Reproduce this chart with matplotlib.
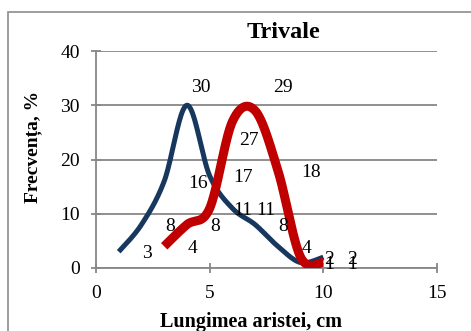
import numpy as np
import matplotlib
matplotlib.use("Agg")
import matplotlib.pyplot as plt
from matplotlib.patches import Rectangle

# frequency of awn length, two samples
blue_x = [1, 2, 3, 4, 5, 6, 7, 8, 9, 10]
blue_y = [3, 8, 16, 30, 17, 11, 8, 4, 1, 2]
red_x = [3, 4, 5, 6, 7, 8, 9, 10]
red_y = [4, 8, 11, 27, 29, 18, 2, 1]

title = "Trivale"
x_label = "Lungimea aristei, cm"
y_label = "Frecvența, %"
x_ticks = [0, 5, 10, 15]
y_ticks = [0, 10, 20, 30, 40]

BLUE = "#17375E"
RED = "#C00000"
GRID = "#878787"


def smooth(xs, ys, n=40):
    # cubic bezier through the points, tangents like a spreadsheet "smoothed line"
    pts = np.column_stack([xs, ys]).astype(float)
    out = []
    for i in range(len(pts) - 1):
        p0 = pts[i - 1] if i > 0 else pts[i]
        p1 = pts[i]
        p2 = pts[i + 1]
        p3 = pts[i + 2] if i + 2 < len(pts) else pts[i + 1]
        c1 = p1 + (p2 - p0) / 6.0
        c2 = p2 - (p3 - p1) / 6.0
        t = np.linspace(0, 1, n)[:, None]
        seg = ((1 - t) ** 3) * p1 + 3 * ((1 - t) ** 2) * t * c1 + 3 * (1 - t) * t ** 2 * c2 + t ** 3 * p2
        out.append(seg if i == 0 else seg[1:])
    seg = np.vstack(out)
    return seg[:, 0], seg[:, 1]


plt.rcParams["font.family"] = ["Liberation Serif", "DejaVu Serif"]

fig = plt.figure(figsize=(4.71, 3.31), dpi=100)
fig.patches.append(Rectangle((8 / 471, -0.1), 1.2, (331 - 12) / 331 + 0.1,
                             transform=fig.transFigure, fill=False,
                             edgecolor="#8c8c8c", linewidth=1.2))

ax = fig.add_axes([96 / 471, (331 - 268) / 331, (437 - 96) / 471, (268 - 51) / 331])

bx, by = smooth(blue_x, blue_y)
rx, ry = smooth(red_x, red_y)
ax.plot(bx, by, color=BLUE, lw=3.6, solid_capstyle="butt", zorder=3)
ax.plot(rx, ry, color=RED, lw=6.5, solid_capstyle="butt", zorder=4)

# value labels: right of the point, the peaks moved by hand
special = {("b", 4): (10, 13), ("r", 6): (12, -14), ("r", 7): (20, 17)}
for key, xs, ys in (("b", blue_x, blue_y), ("r", red_x, red_y)):
    for x, y in zip(xs, ys):
        if (key, x) in special:
            dx, dy = special[(key, x)]
            ax.annotate(str(y), (x, y), xytext=(dx, dy), textcoords="offset points",
                        ha="center", va="center", fontsize=14, zorder=5)
        else:
            ax.annotate(str(y), (x, y), xytext=(17, -1.5), textcoords="offset points",
                        ha="left", va="center", fontsize=14, zorder=5)

ax.set_xlim(0, 15)
ax.set_ylim(0, 40)
ax.set_xticks(x_ticks)
ax.set_yticks(y_ticks)
ax.yaxis.grid(True, color=GRID, lw=1.3)
ax.set_axisbelow(True)
for s in ("top", "right"):
    ax.spines[s].set_visible(False)
for s in ("left", "bottom"):
    ax.spines[s].set_color(GRID)
    ax.spines[s].set_linewidth(1.3)
ax.tick_params(axis="both", direction="inout", length=7, width=1.3, color=GRID,
               labelsize=14)
ax.tick_params(axis="y", pad=8)
ax.tick_params(axis="x", pad=9)

fig.text(283 / 471, 1 - 32 / 331, title, ha="center", va="center",
         fontsize=17.5, fontweight="bold")
fig.text(251 / 471, 1 - 322 / 331, x_label, ha="center", va="center",
         fontsize=14.5, fontweight="bold")
fig.text(33 / 471, 1 - 147 / 331, y_label, ha="center", va="center",
         fontsize=14, fontweight="bold", rotation=90)

fig.savefig("out.png", dpi=100)
